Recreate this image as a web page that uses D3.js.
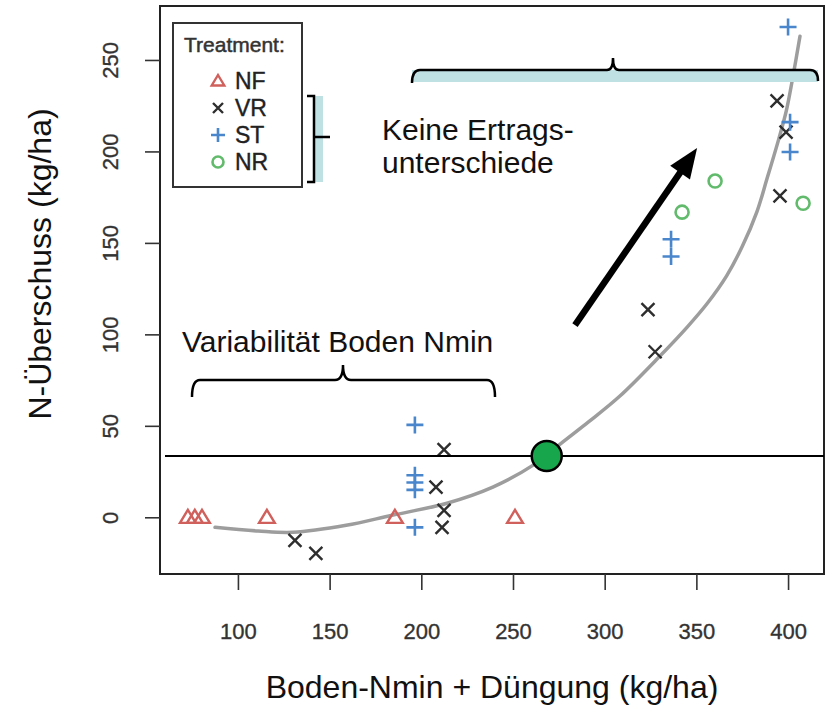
<!DOCTYPE html>
<html><head><meta charset="utf-8">
<script src="https://cdn.jsdelivr.net/npm/d3@7"></script>
<style>html,body{margin:0;padding:0;background:#fff}svg{display:block}</style>
</head><body>
<svg id="c" width="834" height="706"></svg>
<script>
// ---- data ----
const xTicks = [100,150,200,250,300,350,400];
const yTicks = [0,50,100,150,200,250];
const legendLabels = ["NF","VR","ST","NR"];
const nfX = [72.7,76.5,80.4,115.8,185.6,251.1];
const nfY = [0,0,0,0,0,0];
const vrX = [131.1,142.5,212.4,208,212.4,211.3,323.6,327.5,394,398.9,395.6];
const vrY = [-12.6,-19.7,37,16.5,3.8,-5.5,113.5,90.5,227.6,210.6,175.7];
const stX = [196.5,196.5,196.5,196.5,196.5,336.2,336.2,400,401.1,401.1];
const stY = [50.5,23,19,15,-5.5,152,142.6,268,216,199.7];
const nrX = [342.2,360.2,408.2];
const nrY = [166.8,183.8,171.7];
const fitX = [87.5,111,130,159,184,214,239,261,268,291,308,330,345,356,366.5,375,383,388.5,395,399,402.5,406.5];
const fitY = [-5.5,-7.5,-8.2,-4.4,1.1,7.7,16.5,28.5,34,52,66,88,104,117,132,148,167,185,207,222,240,263];
const thresholdY = 33.5;
const pointX = 268.4;
const arrowFrom = [283.8,105];
const arrowTo = [350.4,201.9];

// ---- layout ----
const svg = d3.select("#c");
const L=160, R=824, T=6, B=574;
const x = d3.scaleLinear().domain([57.5,419.6]).range([L,R]);
const y = d3.scaleLinear().domain([-31,279.5]).range([B,T]);
const FONT = "Arial, 'Liberation Sans', sans-serif";

// frame
svg.append("rect").attr("x",L).attr("y",T).attr("width",R-L).attr("height",B-T)
  .attr("fill","none").attr("stroke","#222").attr("stroke-width",2);

// axes
const xAxis = svg.append("g").attr("transform",`translate(0,${B})`)
  .call(d3.axisBottom(x).tickValues(xTicks).tickSize(16).tickPadding(42));
const yAxis = svg.append("g").attr("transform",`translate(${L},0)`)
  .call(d3.axisLeft(y).tickValues(yTicks).tickSize(15).tickPadding(0));
[xAxis,yAxis].forEach(g=>{
  g.select(".domain").remove();
  g.selectAll(".tick line").attr("stroke","#333").attr("stroke-width",1.6);
  g.selectAll("text").attr("font-family",FONT).attr("font-size",22).attr("fill","#333")
    .attr("stroke","#333").attr("stroke-width",0.35);
});
xAxis.selectAll("text").attr("dy","0.3em");
yAxis.selectAll(".tick text").attr("text-anchor","middle").attr("x",0)
  .attr("transform","translate(-50,0) rotate(-90)").attr("dy","0.35em");

// axis titles
svg.append("text").attr("x",492).attr("y",698).attr("text-anchor","middle")
  .attr("font-family",FONT).attr("font-size",32).attr("fill","#111")
  .text("Boden-Nmin + Düngung (kg/ha)");
svg.append("text").attr("transform","translate(51,264) rotate(-90)").attr("text-anchor","middle")
  .attr("font-family",FONT).attr("font-size",32).attr("fill","#111")
  .text("N-Überschuss (kg/ha)");

// fitted curve
const fit = fitX.map((v,i)=>[v,fitY[i]]);
svg.append("path").datum(fit)
  .attr("d",d3.line().x(d=>x(d[0])).y(d=>y(d[1])).curve(d3.curveCatmullRom))
  .attr("fill","none").attr("stroke","#9d9d9d").attr("stroke-width",3.5).attr("stroke-linecap","round");

// marker shapes
const triPath = s=>`M0,${-s}L${s*1.05},${s*0.75}L${-s*1.05},${s*0.75}Z`;
const timesPath = s=>`M${-s},${-s}L${s},${s}M${-s},${s}L${s},${-s}`;
const plusPath = s=>`M${-s},0L${s},0M0,${-s}L0,${s}`;
const RED="#d0605c", DARK="#2e2e2e", BLUE="#4a86cc", GREEN="#62bb6c";

function drawSeries(xs,ys,pathFn,color,sw,circle){
  const g = svg.append("g");
  const data = xs.map((v,i)=>[v,ys[i]]);
  if(circle){
    g.selectAll("circle").data(data).join("circle")
      .attr("cx",d=>x(d[0])).attr("cy",d=>y(d[1])).attr("r",6.5)
      .attr("fill","none").attr("stroke",color).attr("stroke-width",sw);
  } else {
    g.selectAll("path").data(data).join("path")
      .attr("transform",d=>`translate(${x(d[0])},${y(d[1])})`)
      .attr("d",pathFn).attr("fill","none").attr("stroke",color).attr("stroke-width",sw);
  }
}
drawSeries(nfX,nfY,()=>triPath(7.5),RED,2.4);
drawSeries(vrX,vrY,()=>timesPath(6.5),DARK,2.4);
drawSeries(stX,stY,()=>plusPath(8.5),BLUE,2.6);
drawSeries(nrX,nrY,null,GREEN,2.6,true);

// legend
const lg = svg.append("g");
lg.append("rect").attr("x",173).attr("y",23).attr("width",129).attr("height",164)
  .attr("fill","#fff").attr("stroke","#333").attr("stroke-width",2);
lg.append("text").attr("x",184).attr("y",52).attr("font-family",FONT).attr("font-size",21)
  .attr("fill","#333").attr("stroke","#333").attr("stroke-width",0.5).text("Treatment:");
const lgY = [81,108,135,162];
const lgShapes = [
  g=>g.append("path").attr("d",triPath(6)).attr("fill","none").attr("stroke",RED).attr("stroke-width",2.4),
  g=>g.append("path").attr("d",timesPath(5)).attr("fill","none").attr("stroke",DARK).attr("stroke-width",2.4),
  g=>g.append("path").attr("d",plusPath(7)).attr("fill","none").attr("stroke",BLUE).attr("stroke-width",2.6),
  g=>g.append("circle").attr("r",5.5).attr("fill","none").attr("stroke",GREEN).attr("stroke-width",2.6)
];
legendLabels.forEach((lab,i)=>{
  const g = lg.append("g").attr("transform",`translate(218,${lgY[i]})`);
  lgShapes[i](g);
  lg.append("text").attr("x",235).attr("y",lgY[i]+8).attr("font-family",FONT).attr("font-size",23)
    .attr("fill","#222").attr("stroke","#222").attr("stroke-width",0.4).text(lab);
});

// threshold line and point
svg.append("line").attr("x1",L+5).attr("x2",R).attr("y1",y(thresholdY)).attr("y2",y(thresholdY))
  .attr("stroke","#000").attr("stroke-width",2);
svg.append("circle").attr("cx",x(pointX)).attr("cy",y(thresholdY)).attr("r",15)
  .attr("fill","#17a64b").attr("stroke","#000").attr("stroke-width",2.5);

// arrow
{
  const x1=x(arrowFrom[0]), y1=y(arrowFrom[1]), x2=x(arrowTo[0]), y2=y(arrowTo[1]);
  const ang=Math.atan2(y2-y1,x2-x1), hl=30, hw=12;
  const bx=x2-hl*Math.cos(ang), by=y2-hl*Math.sin(ang);
  svg.append("line").attr("x1",x1).attr("y1",y1).attr("x2",bx+4*Math.cos(ang)).attr("y2",by+4*Math.sin(ang))
    .attr("stroke","#000").attr("stroke-width",6.5);
  const px=-Math.sin(ang), py=Math.cos(ang);
  svg.append("path").attr("d",`M${x2},${y2}L${bx+hw*px},${by+hw*py}L${bx-hw*px},${by-hw*py}Z`).attr("fill","#000");
}

// top bracket
svg.append("rect").attr("x",412).attr("y",70).attr("width",406).attr("height",12).attr("fill","#bfe1e4");
svg.append("path").attr("d","M412,83 Q412,70 420,70 L607,70 Q613,70 613,58 Q613,70 619,70 L810,70 Q818,70 818,81")
  .attr("fill","none").attr("stroke","#000").attr("stroke-width",2.5);

// legend brace
svg.append("rect").attr("x",314).attr("y",96).attr("width",9).attr("height",86).attr("fill","#bfe1e4");
svg.append("path").attr("d","M307,96 L314,96 L314,137 L330,137 M314,137 L314,182 L307,182")
  .attr("fill","none").attr("stroke","#000").attr("stroke-width",2.5);

// lower brace
svg.append("path").attr("d","M192,397 Q192,380 200,380 L335,380 Q343,380 343,365 Q343,380 351,380 L487,380 Q495,380 495,397")
  .attr("fill","none").attr("stroke","#000").attr("stroke-width",2.5);

// annotation texts
const ann = svg.append("g").attr("font-family",FONT).attr("font-size",30).attr("fill","#111");
ann.append("text").attr("x",382).attr("y",140).text("Keine Ertrags-");
ann.append("text").attr("x",382).attr("y",173).text("unterschiede");
ann.append("text").attr("x",182).attr("y",352).text("Variabilität Boden Nmin");
</script>
</body></html>
